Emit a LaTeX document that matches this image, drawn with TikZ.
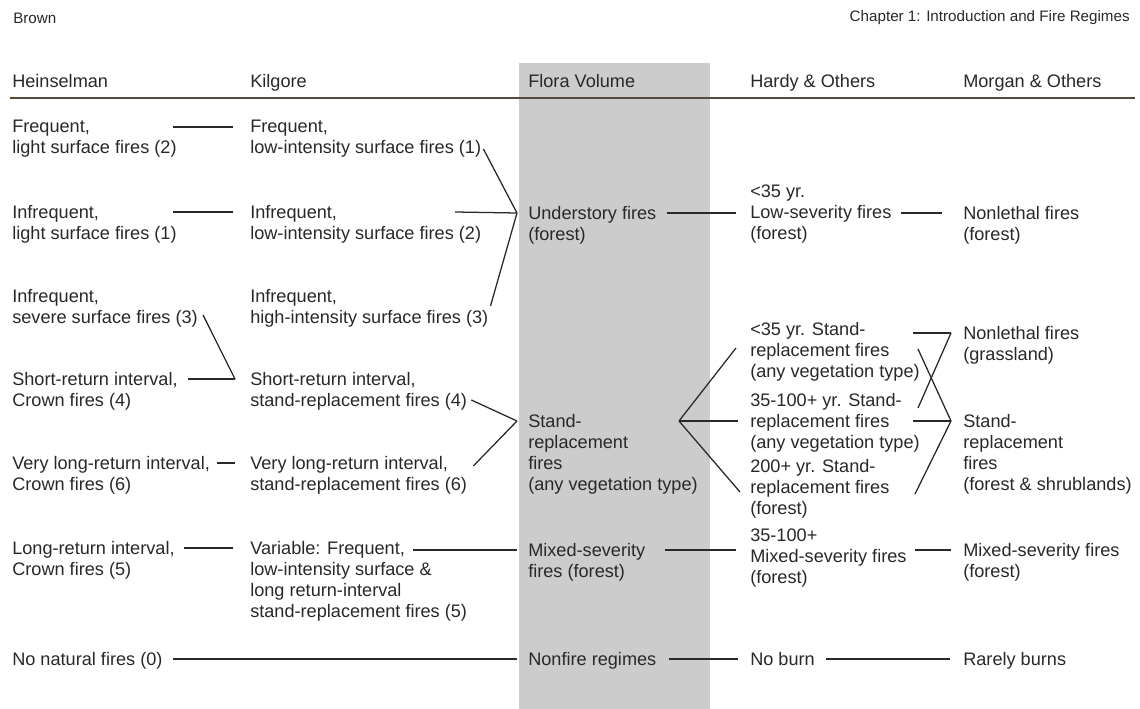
\documentclass[tikz,border=0pt]{standalone}
\usepackage{fontspec}
\setmainfont{Liberation Sans}
\usetikzlibrary{calc, positioning}

\definecolor{rulebrown}{RGB}{92,72,56}
\definecolor{floragray}{RGB}{204,204,204}
\definecolor{inkgray}{RGB}{40,40,40}

\begin{document}
\begin{tikzpicture}[x=0.025cm, y=-0.025cm,
  txt/.style={anchor=north west, inner sep=0pt, align=left, text=inkgray,
    font=\fontsize{12.9}{14.9}\selectfont},
  runhead/.style={inner sep=0pt, text=inkgray, font=\fontsize{10.8}{13}\selectfont},
  link/.style={line width=0.9pt, color=inkgray}]
  \useasboundingbox (0,0) rectangle (1140,709);

  % Draw the shaded Flora Volume column
  \fill[floragray] (519,63) rectangle (710,709);

  % Running heads
  \node[runhead, anchor=west] (brown) at (13,18) {Brown};
  \node[runhead, anchor=east] (chapter) at (1130,18) {Chapter 1: Introduction and Fire Regimes};

  % Column heads and the rule under them
  \node[txt] (headH) at (12,74) {Heinselman};
  \node[txt] (headK) at (250,74) {Kilgore};
  \node[txt] (headF) at (528,74) {Flora Volume};
  \node[txt] (headD) at (750,74) {Hardy \& Others};
  \node[txt] (headM) at (963,74) {Morgan \& Others};
  \draw[rulebrown, line width=1.4pt] (10,98) -- (1135,98);

  % Heinselman column
  \node[txt] (heins1) at (12,120) {Frequent,\\light surface fires (2)};
  \node[txt] (heins2) at (12,205) {Infrequent,\\light surface fires (1)};
  \node[txt] (heins3) at (12,289) {Infrequent,\\severe surface fires (3)};
  \node[txt] (heins4) at (12,372) {Short-return interval,\\Crown fires (4)};
  \node[txt] (heins5) at (12,456) {Very long-return interval,\\Crown fires (6)};
  \node[txt] (heins6) at (12,541) {Long-return interval,\\Crown fires (5)};
  \node[txt] (heins7) at (12,652) {No natural fires (0)};

  % Kilgore column
  \node[txt] (kil1) at (250,120) {Frequent,\\low-intensity surface fires (1)};
  \node[txt] (kil2) at (250,205) {Infrequent,\\low-intensity surface fires (2)};
  \node[txt] (kil3) at (250,289) {Infrequent,\\high-intensity surface fires (3)};
  \node[txt] (kil4) at (250,372) {Short-return interval,\\stand-replacement fires (4)};
  \node[txt] (kil5) at (250,456) {Very long-return interval,\\stand-replacement fires (6)};
  \node[txt] (kil6) at (250,541) {Variable: Frequent,\\low-intensity surface \&\\long return-interval\\stand-replacement fires (5)};

  % Flora Volume column
  \node[txt] (flora1) at (528,206) {Understory fires\\(forest)};
  \node[txt] (flora2) at (528,414) {Stand-\\replacement\\fires\\(any vegetation type)};
  \node[txt] (flora3) at (528,543) {Mixed-severity\\fires (forest)};
  \node[txt] (flora4) at (528,652) {Nonfire regimes};

  % Hardy & Others column
  \node[txt] (hardy1) at (750,185) {<35 yr.\\Low-severity fires\\(forest)};
  \node[txt] (hardy2) at (750,322) {<35 yr. Stand-\\replacement fires\\(any vegetation type)};
  \node[txt] (hardy3) at (750,393) {35-100+ yr. Stand-\\replacement fires\\(any vegetation type)};
  \node[txt] (hardy4) at (750,459) {200+ yr. Stand-\\replacement fires\\(forest)};
  \node[txt] (hardy5) at (750,529) {35-100+\\Mixed-severity fires\\(forest)};
  \node[txt] (hardy6) at (750,652) {No burn};

  % Morgan & Others column
  \node[txt] (morgan1) at (963,206) {Nonlethal fires\\(forest)};
  \node[txt] (morgan2) at (963,326) {Nonlethal fires\\(grassland)};
  \node[txt] (morgan3) at (963,414) {Stand-\\replacement\\fires\\(forest \& shrublands)};
  \node[txt] (morgan4) at (963,543) {Mixed-severity fires\\(forest)};
  \node[txt] (morgan5) at (963,652) {Rarely burns};

  % Heinselman to Kilgore
  \draw[link] ($(heins1.north west)+(161,7)$) -- ($(kil1.north west)+(-17,7)$);
  \draw[link] ($(heins2.north west)+(161,7)$) -- ($(kil2.north west)+(-17,7)$);
  \coordinate (shortret) at ($(kil4.north west)+(-15,7)$);
  \draw[link] ($(heins3.north east)+(5,26)$) -- (shortret);
  \draw[link] ($(heins4.north west)+(176,7)$) -- (shortret);
  \draw[link] ($(heins5.north east)+(7,7)$) -- ($(kil5.north west)+(-15,7)$);
  \draw[link] ($(heins6.north east)+(9,7)$) -- ($(kil6.north west)+(-17,7)$);

  % Kilgore to Flora Volume
  \coordinate (understory) at ($(flora1.north west)+(-11,7)$);
  \draw[link] ($(kil1.north east)+(2,29)$) -- (understory);
  \draw[link] ($(kil2.north west)+(205,7)$) -- (understory);
  \draw[link] ($(kil3.north east)+(2,17)$) -- (understory);
  \coordinate (standrep) at ($(flora2.north west)+(-11,7)$);
  \draw[link] ($(kil4.north east)+(4,28)$) -- (standrep);
  \draw[link] ($(kil5.north east)+(6,10)$) -- (standrep);
  \draw[link] ($(kil6.north west)+(163,9)$) -- ($(flora3.north west)+(-11,7)$);
  \draw[link] ($(heins7.north east)+(10,7)$) -- ($(flora4.north west)+(-11,7)$);

  % Flora Volume to Hardy & Others
  \draw[link] ($(flora1.north east)+(10,7)$) -- ($(hardy1.north west)+(-14,28)$);
  \coordinate (standfan) at ($(flora2.north west)+(151,7)$);
  \draw[link] (standfan) -- ($(hardy2.north west)+(-14,26)$);
  \draw[link] (standfan) -- ($(hardy3.north west)+(-12,28)$);
  \draw[link] (standfan) -- ($(hardy4.north west)+(-10,33)$);
  \draw[link] ($(flora3.north west)+(137,7)$) -- ($(hardy5.north west)+(-14,21)$);
  \draw[link] ($(flora4.north east)+(12,7)$) -- ($(hardy6.north west)+(-12,7)$);

  % Hardy & Others to Morgan & Others
  \draw[link] ($(hardy1.north east)+(9,28)$) -- ($(morgan1.north west)+(-21,7)$);
  \coordinate (grassjoin) at ($(morgan2.north west)+(-12,7)$);
  \coordinate (shrubjoin) at ($(morgan3.north west)+(-12,7)$);
  \draw[link] (grassjoin) -- ($(hardy2.north west)+(163,11)$);
  \draw[link] (grassjoin) -- ($(hardy3.north west)+(168,15)$);
  \draw[link] (shrubjoin) -- ($(hardy3.north west)+(163,28)$);
  \draw[link] (shrubjoin) -- ($(hardy2.north west)+(168,27)$);
  \draw[link] (shrubjoin) -- ($(hardy4.north west)+(165,35)$);
  \draw[link] ($(hardy5.north west)+(165,21)$) -- ($(morgan4.north west)+(-12,7)$);
  \draw[link] ($(hardy6.north east)+(11,7)$) -- ($(morgan5.north west)+(-13,7)$);
\end{tikzpicture}
\end{document}
